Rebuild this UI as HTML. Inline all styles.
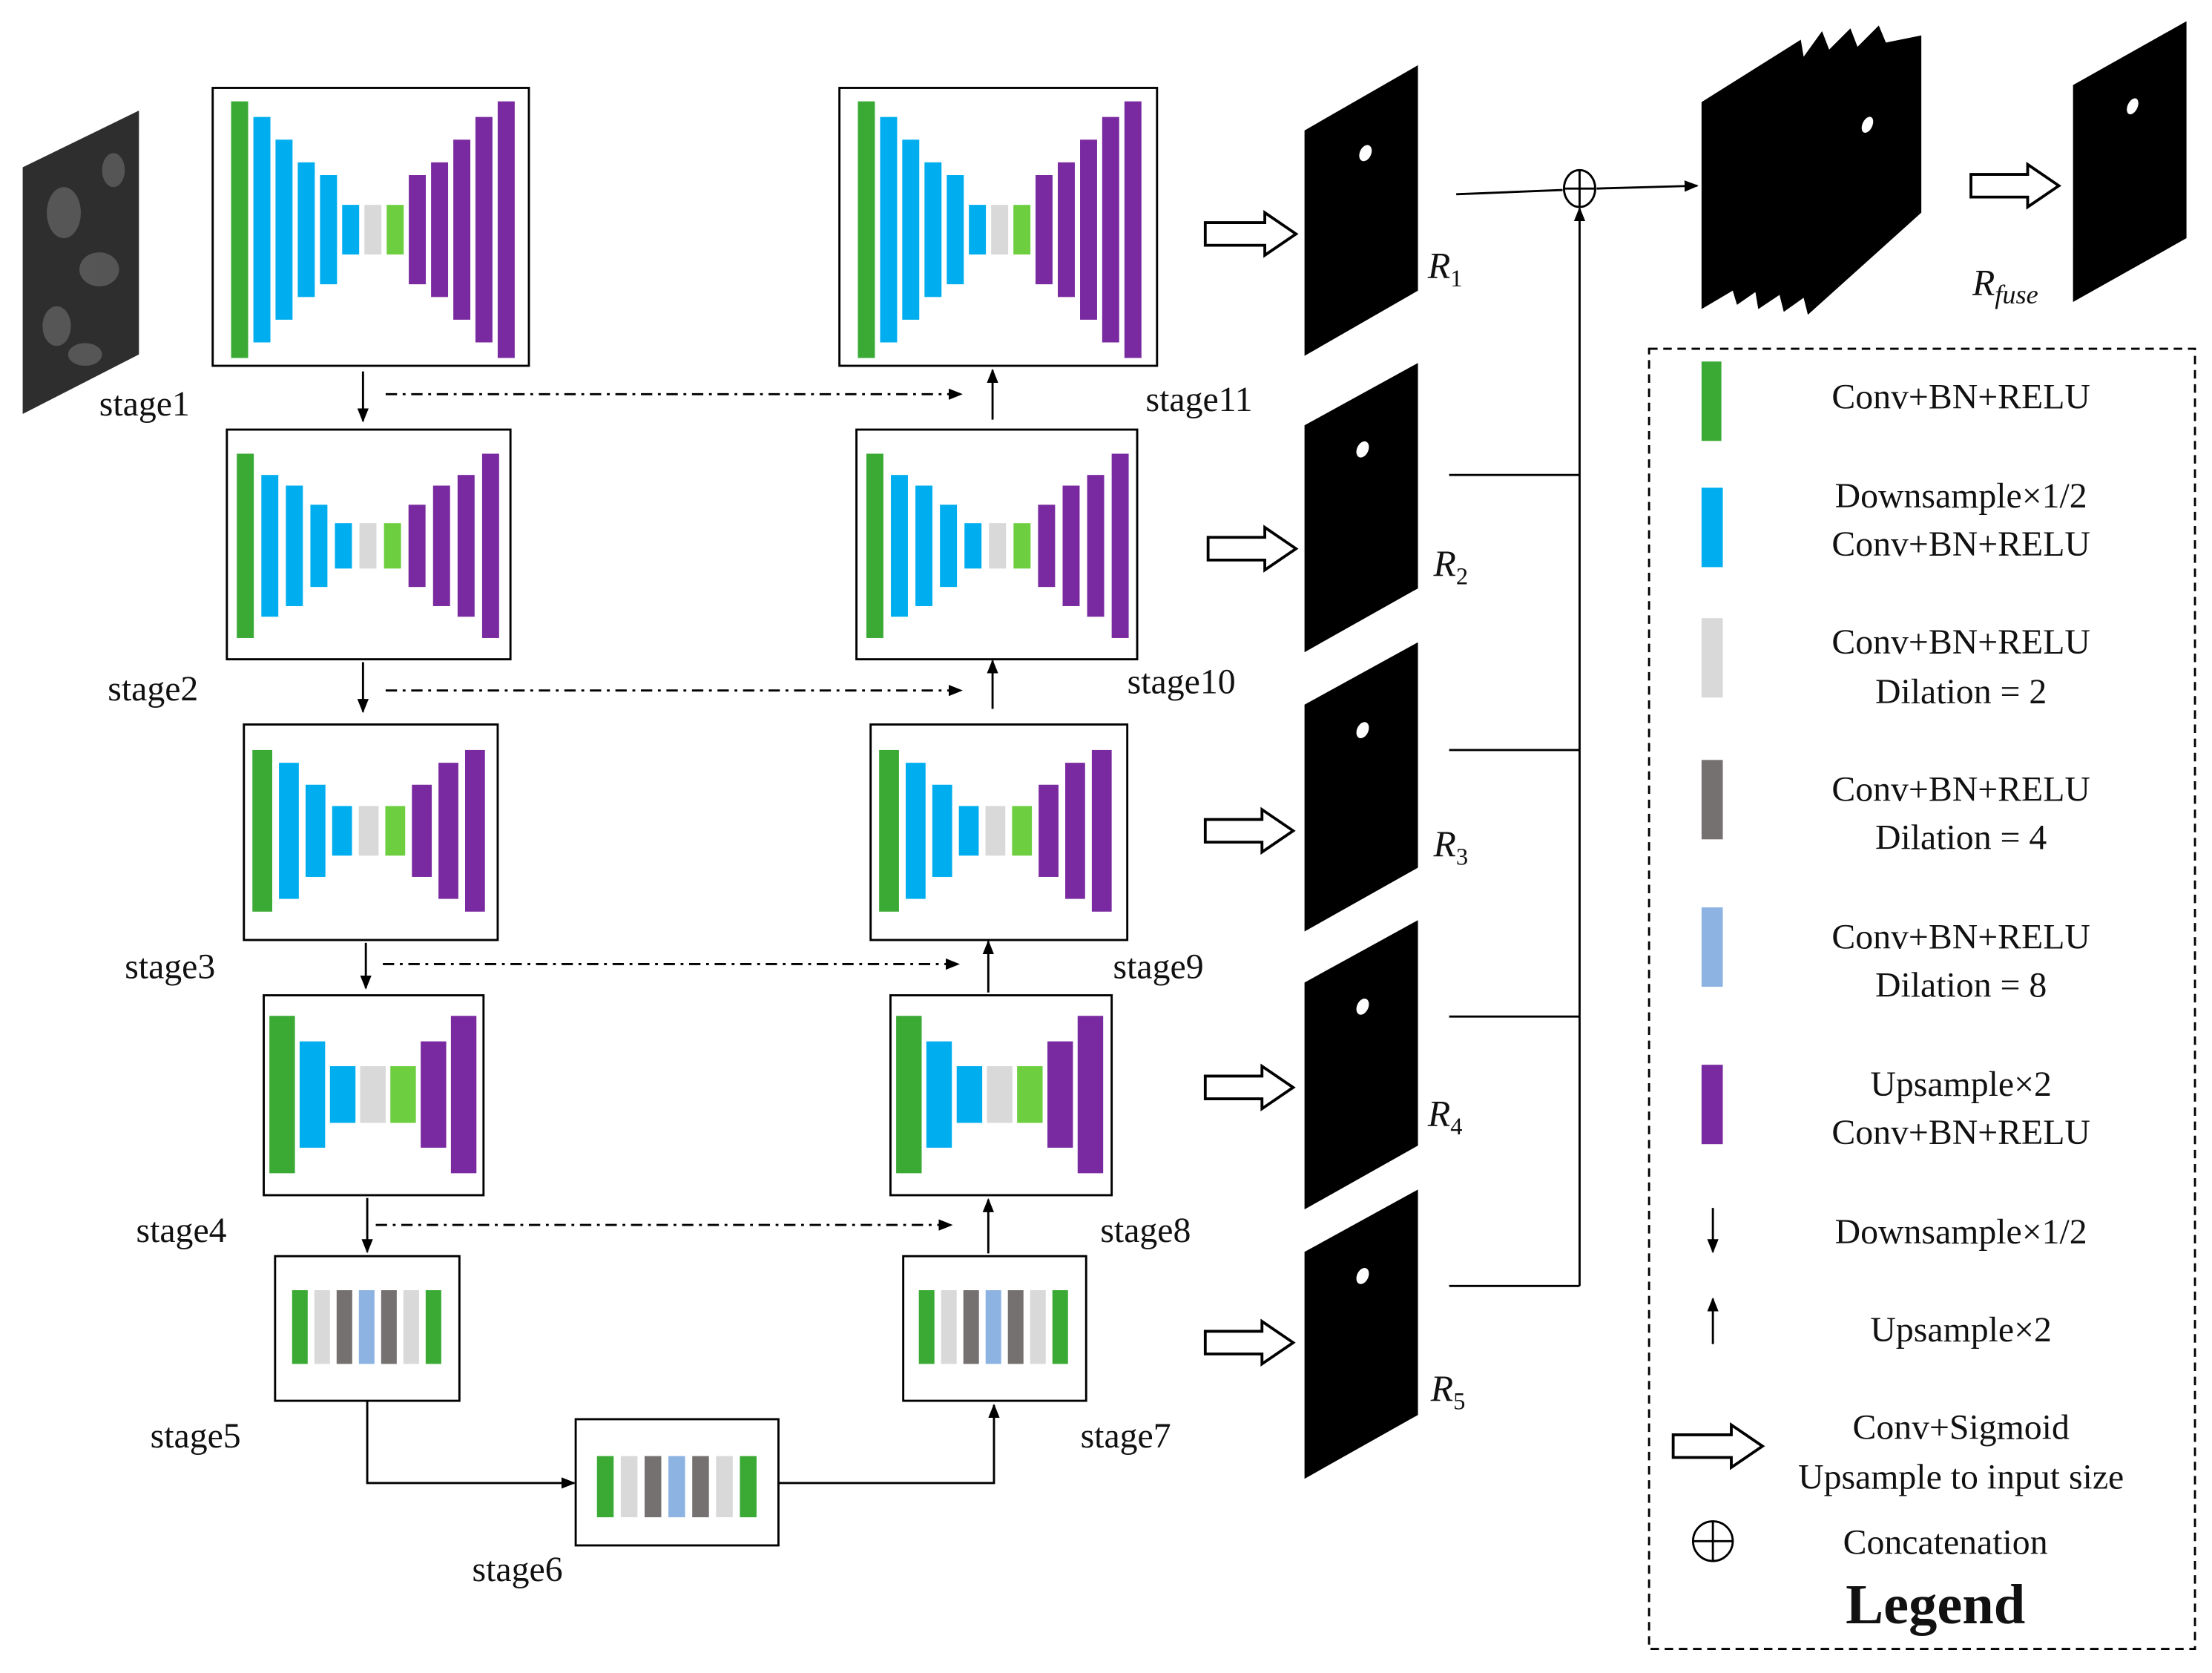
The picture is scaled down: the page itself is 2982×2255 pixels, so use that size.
<!DOCTYPE html>
<html><head><meta charset="utf-8"><style>
html,body{margin:0;padding:0;background:#fff}
svg{display:block}
text{font-family:"Liberation Serif",serif;fill:#111}
</style></head><body>
<svg width="2982" height="2255" viewBox="0 0 1560 1180" preserveAspectRatio="none" xmlns="http://www.w3.org/2000/svg" xmlns:xlink="http://www.w3.org/1999/xlink">
<defs>
<marker id="ah" markerWidth="10" markerHeight="10" refX="9" refY="5" orient="auto" markerUnits="userSpaceOnUse"><path d="M0,1 L10,5 L0,9 Z" fill="#000"/></marker>
<g id="n1">
<rect x="163" y="71.5" width="12" height="181" fill="#3aaa35"/>
<rect x="178.7" y="82.5" width="12" height="159" fill="#00aeef"/>
<rect x="194.3" y="98.5" width="12" height="127" fill="#00aeef"/>
<rect x="210" y="114.5" width="12" height="95" fill="#00aeef"/>
<rect x="225.7" y="123.5" width="12" height="77" fill="#00aeef"/>
<rect x="241.3" y="144.5" width="12" height="35" fill="#00aeef"/>
<rect x="257" y="144.5" width="12" height="35" fill="#d9d9d9"/>
<rect x="272.7" y="144.5" width="12" height="35" fill="#6dcf3f"/>
<rect x="288.3" y="123.5" width="12" height="77" fill="#7a2aa0"/>
<rect x="304" y="114.5" width="12" height="95" fill="#7a2aa0"/>
<rect x="319.7" y="98.5" width="12" height="127" fill="#7a2aa0"/>
<rect x="335.3" y="82.5" width="12" height="159" fill="#7a2aa0"/>
<rect x="351" y="71.5" width="12" height="181" fill="#7a2aa0"/>
</g>
<g id="n2">
<rect x="167" y="320" width="12" height="130" fill="#3aaa35"/>
<rect x="184.3" y="335" width="12" height="100" fill="#00aeef"/>
<rect x="201.6" y="342.5" width="12" height="85" fill="#00aeef"/>
<rect x="218.9" y="356" width="12" height="58" fill="#00aeef"/>
<rect x="236.2" y="369" width="12" height="32" fill="#00aeef"/>
<rect x="253.5" y="369" width="12" height="32" fill="#d9d9d9"/>
<rect x="270.8" y="369" width="12" height="32" fill="#6dcf3f"/>
<rect x="288.1" y="356" width="12" height="58" fill="#7a2aa0"/>
<rect x="305.4" y="342.5" width="12" height="85" fill="#7a2aa0"/>
<rect x="322.7" y="335" width="12" height="100" fill="#7a2aa0"/>
<rect x="340" y="320" width="12" height="130" fill="#7a2aa0"/>
</g>
<g id="n3">
<rect x="178" y="529" width="14" height="114" fill="#3aaa35"/>
<rect x="196.75" y="538" width="14" height="96" fill="#00aeef"/>
<rect x="215.5" y="553.5" width="14" height="65" fill="#00aeef"/>
<rect x="234.25" y="568.5" width="14" height="35" fill="#00aeef"/>
<rect x="253" y="568.5" width="14" height="35" fill="#d9d9d9"/>
<rect x="271.75" y="568.5" width="14" height="35" fill="#6dcf3f"/>
<rect x="290.5" y="553.5" width="14" height="65" fill="#7a2aa0"/>
<rect x="309.25" y="538" width="14" height="96" fill="#7a2aa0"/>
<rect x="328" y="529" width="14" height="114" fill="#7a2aa0"/>
</g>
<g id="n4">
<rect x="190" y="716.5" width="18" height="111" fill="#3aaa35"/>
<rect x="211.3" y="734.5" width="18" height="75" fill="#00aeef"/>
<rect x="232.7" y="752" width="18" height="40" fill="#00aeef"/>
<rect x="254" y="752" width="18" height="40" fill="#d9d9d9"/>
<rect x="275.3" y="752" width="18" height="40" fill="#6dcf3f"/>
<rect x="296.7" y="734.5" width="18" height="75" fill="#7a2aa0"/>
<rect x="318" y="716.5" width="18" height="111" fill="#7a2aa0"/>
</g>
<g id="m">
<rect x="0" y="0" width="11" height="52" fill="#3aaa35"/>
<rect x="15.7" y="0" width="11" height="52" fill="#d9d9d9"/>
<rect x="31.4" y="0" width="11" height="52" fill="#767171"/>
<rect x="47.1" y="0" width="11" height="52" fill="#8db3e2"/>
<rect x="62.8" y="0" width="11" height="52" fill="#767171"/>
<rect x="78.5" y="0" width="11" height="52" fill="#d9d9d9"/>
<rect x="94.2" y="0" width="11" height="52" fill="#3aaa35"/>
</g>
</defs>
<rect width="1560" height="1180" fill="#fff"/>
<!-- input image -->
<polygon points="16,118 98,78 98,250 16,292" fill="#2e2e2e"/>
<g fill="#777" opacity="0.55">
<ellipse cx="45" cy="150" rx="12" ry="18"/><ellipse cx="70" cy="190" rx="14" ry="12"/>
<ellipse cx="40" cy="230" rx="10" ry="14"/><ellipse cx="80" cy="120" rx="8" ry="12"/>
<ellipse cx="60" cy="250" rx="12" ry="8"/>
</g>
<!-- boxes -->
<g fill="#fff" stroke="#000" stroke-width="1.5">
<rect x="150" y="62" width="223" height="196"/><rect x="592" y="62" width="224" height="196"/>
<rect x="160" y="303" width="200" height="162"/><rect x="604" y="303" width="198" height="162"/>
<rect x="172" y="511" width="179" height="152"/><rect x="614" y="511" width="181" height="152"/>
<rect x="186" y="702" width="155" height="141"/><rect x="628" y="702" width="156" height="141"/>
<rect x="194" y="886" width="130" height="102"/><rect x="637" y="886" width="129" height="102"/>
<rect x="406" y="1001" width="143" height="89"/>
</g>
<use xlink:href="#n1"/><use xlink:href="#n1" transform="translate(442,0)"/>
<use xlink:href="#n2"/><use xlink:href="#n2" transform="translate(444,0)"/>
<use xlink:href="#n3"/><use xlink:href="#n3" transform="translate(442,0)"/>
<use xlink:href="#n4"/><use xlink:href="#n4" transform="translate(442,0)"/>
<use xlink:href="#m" transform="translate(206,910)"/>
<use xlink:href="#m" transform="translate(648,910)"/>
<use xlink:href="#m" transform="translate(421,1027) scale(1.07,0.83)"/>
<g stroke="#000" stroke-width="1.5" fill="none">
<line x1="256" y1="262" x2="256" y2="297" marker-end="url(#ah)"/>
<line x1="256" y1="467" x2="256" y2="502" marker-end="url(#ah)"/>
<line x1="258" y1="665" x2="258" y2="697" marker-end="url(#ah)"/>
<line x1="259" y1="845" x2="259" y2="883" marker-end="url(#ah)"/>
<line x1="700" y1="296" x2="700" y2="261" marker-end="url(#ah)"/>
<line x1="700" y1="500" x2="700" y2="466" marker-end="url(#ah)"/>
<line x1="697" y1="700" x2="697" y2="664" marker-end="url(#ah)"/>
<line x1="697" y1="884" x2="697" y2="846" marker-end="url(#ah)"/>
<g stroke-dasharray="8,4,2,4">
<line x1="272" y1="278" x2="678" y2="278" marker-end="url(#ah)"/>
<line x1="272" y1="487" x2="678" y2="487" marker-end="url(#ah)"/>
<line x1="270" y1="680" x2="676" y2="680" marker-end="url(#ah)"/>
<line x1="265" y1="864" x2="671" y2="864" marker-end="url(#ah)"/>
</g>
<polyline points="259,988 259,1046 405,1046" marker-end="url(#ah)"/>
<polyline points="549,1046 701,1046 701,991" marker-end="url(#ah)"/>
<line x1="1027" y1="137" x2="1102" y2="134"/>
<line x1="1126" y1="133" x2="1197" y2="131" marker-end="url(#ah)"/>
<line x1="1114" y1="907" x2="1114" y2="147" marker-end="url(#ah)"/>
<line x1="1022" y1="335" x2="1114" y2="335"/>
<line x1="1022" y1="529" x2="1114" y2="529"/>
<line x1="1022" y1="717" x2="1114" y2="717"/>
<line x1="1022" y1="907" x2="1114" y2="907"/>
<ellipse cx="1114" cy="133" rx="11" ry="13"/>
<line x1="1103" y1="133" x2="1125" y2="133"/><line x1="1114" y1="120" x2="1114" y2="146"/>
</g>
<g fill="#fff" stroke="#000" stroke-width="2">
<polygon points="850,157 892,157 892,150 914,165 892,180 892,173 850,173"/>
<polygon points="852,379 892,379 892,372 914,387 892,402 892,395 852,395"/>
<polygon points="850,578 890,578 890,571 912,586 890,601 890,594 850,594"/>
<polygon points="850,759 890,759 890,752 912,767 890,782 890,775 850,775"/>
<polygon points="850,939 890,939 890,932 912,947 890,962 890,955 850,955"/>
<polygon points="1390,123 1430,123 1430,116 1452,131 1430,146 1430,139 1390,139"/>
<polygon points="1180,1012 1221,1012 1221,1005 1243,1020 1221,1035 1221,1028 1180,1028"/>
</g>
<g fill="#000">
<polygon points="920,92 1000,46 1000,205 920,251"/>
<polygon points="920,300 1000,256 1000,415 920,460"/>
<polygon points="920,497 1000,453 1000,612 920,657"/>
<polygon points="920,693 1000,649 1000,808 920,853"/>
<polygon points="920,883 1000,839 1000,998 920,1043"/>
<polygon points="1200,72 1270,28 1272,40 1285,22 1290,35 1305,20 1310,33 1325,18 1330,30 1355,25 1355,150 1275,222 1272,210 1258,220 1255,208 1240,218 1238,206 1225,215 1222,205 1200,218"/>
<polygon points="1462,60 1542,15 1542,168 1462,213"/>
</g>
<g fill="#fff">
<ellipse cx="963" cy="108" rx="4" ry="6" transform="rotate(25 963 108)"/>
<ellipse cx="961" cy="317" rx="4" ry="6" transform="rotate(25 961 317)"/>
<ellipse cx="961" cy="515" rx="4" ry="6" transform="rotate(25 961 515)"/>
<ellipse cx="961" cy="710" rx="4" ry="6" transform="rotate(25 961 710)"/>
<ellipse cx="961" cy="900" rx="4" ry="6" transform="rotate(25 961 900)"/>
<ellipse cx="1317" cy="88" rx="3.5" ry="6" transform="rotate(25 1317 88)"/>
<ellipse cx="1504" cy="75" rx="3.5" ry="6" transform="rotate(25 1504 75)"/>
</g>
<g font-size="25">
<text x="70" y="293">stage1</text><text x="808" y="290">stage11</text>
<text x="76" y="494">stage2</text><text x="795" y="489">stage10</text>
<text x="88" y="690">stage3</text><text x="785" y="690">stage9</text>
<text x="96" y="876">stage4</text><text x="776" y="876">stage8</text>
<text x="106" y="1021">stage5</text><text x="762" y="1021">stage7</text>
<text x="333" y="1115">stage6</text>
</g>
<g font-size="26" font-style="italic">
<text x="1007" y="196">R<tspan font-size="17" dy="6" font-style="normal">1</tspan></text>
<text x="1011" y="406">R<tspan font-size="17" dy="6" font-style="normal">2</tspan></text>
<text x="1011" y="604">R<tspan font-size="17" dy="6" font-style="normal">3</tspan></text>
<text x="1007" y="794">R<tspan font-size="17" dy="6" font-style="normal">4</tspan></text>
<text x="1009" y="988">R<tspan font-size="17" dy="6" font-style="normal">5</tspan></text>
<text x="1391" y="208">R<tspan font-size="19" dy="6">fuse</tspan></text>
</g>
<rect x="1163" y="246" width="385" height="917" fill="none" stroke="#000" stroke-width="1.5" stroke-dasharray="6,4"/>
<rect x="1200" y="255" width="14" height="56" fill="#3aaa35"/>
<rect x="1200" y="344" width="15" height="56" fill="#00aeef"/>
<rect x="1200" y="436" width="15" height="56" fill="#d9d9d9"/>
<rect x="1200" y="536" width="15" height="56" fill="#767171"/>
<rect x="1200" y="640" width="15" height="56" fill="#8db3e2"/>
<rect x="1200" y="751" width="15" height="56" fill="#7a2aa0"/>
<g stroke="#000" stroke-width="1.5" fill="none">
<line x1="1208" y1="852" x2="1208" y2="883" marker-end="url(#ah)"/>
<line x1="1208" y1="948" x2="1208" y2="916" marker-end="url(#ah)"/>
<circle cx="1208" cy="1087" r="14"/>
<line x1="1194" y1="1087" x2="1222" y2="1087"/><line x1="1208" y1="1073" x2="1208" y2="1101"/>
</g>
<g font-size="25" text-anchor="middle">
<text x="1383" y="288">Conv+BN+RELU</text>
<text x="1383" y="358">Downsample×1/2</text><text x="1383" y="392">Conv+BN+RELU</text>
<text x="1383" y="461">Conv+BN+RELU</text><text x="1383" y="496">Dilation = 2</text>
<text x="1383" y="565">Conv+BN+RELU</text><text x="1383" y="599">Dilation = 4</text>
<text x="1383" y="669">Conv+BN+RELU</text><text x="1383" y="703">Dilation = 8</text>
<text x="1383" y="773">Upsample×2</text><text x="1383" y="807">Conv+BN+RELU</text>
<text x="1383" y="877">Downsample×1/2</text>
<text x="1383" y="946">Upsample×2</text>
<text x="1383" y="1015">Conv+Sigmoid</text><text x="1383" y="1050">Upsample to input size</text>
<text x="1372" y="1096">Concatenation</text>
<text x="1365" y="1145" font-size="40" font-weight="bold">Legend</text>
</g>
</svg>
</body></html>
